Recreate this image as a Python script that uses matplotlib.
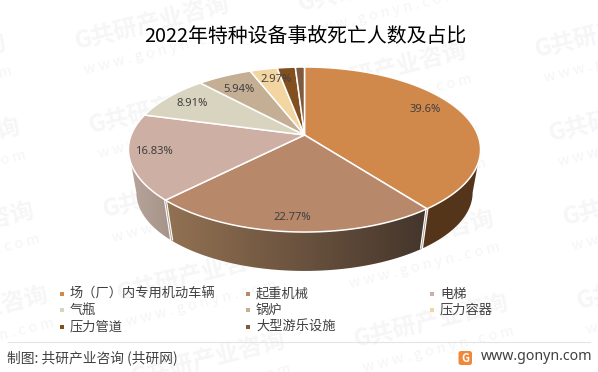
import numpy as np
import matplotlib
matplotlib.use('Agg')
import matplotlib.pyplot as plt
from matplotlib.patches import Polygon, Rectangle, FancyBboxPatch

plt.rcParams['font.family'] = ['Noto Sans CJK SC', 'DejaVu Sans']

titulo = '2022年特种设备事故死亡人数及占比'
categorias = ['场（厂）内专用机动车辆', '起重机械', '电梯', '气瓶', '锅炉', '压力容器', '压力管道', '大型游乐设施']
valores = [39.6, 22.77, 16.83, 8.91, 5.94, 2.97, 1.98, 0.99]
rotulos = ['39.6%', '22.77%', '16.83%', '8.91%', '5.94%', '2.97%']

cores = ['#D0894B', '#B8886B', '#CDAFA3', '#D8D4C0', '#C4AF94', '#F3D5A2', '#82501F', '#7F5A3C']
# parede lateral: cor na esquerda e na direita de cada fatia
cores_parede = {0: ('#56361B', '#54341A'), 1: ('#937253', '#44352B'), 2: ('#B8A59B', '#A69388')}
pos_rotulos = [(425, 110), (292, 217), (154, 151), (192, 104), (239, 89), (276, 80)]

# perspectiva do disco
cx, cy = 304.5, 135
a, A, k = 173.3, -56.2, 0.176


def topo(theta):
    u, v = np.sin(theta), np.cos(theta)
    d = 1 + k * v
    return cx + a * u / d, (A * v + cy) / d


def base(theta):
    x, y = topo(theta)
    return cx + (x - cx) * 0.955, 150 + (y - 150) * 0.95 + 43


fig = plt.figure(figsize=(5.98, 3.72), dpi=100)
ax = fig.add_axes([0, 0, 1, 1])
ax.set_xlim(0, 598)
ax.set_ylim(372, 0)
ax.axis('off')

# marca d'agua em grade inclinada
for i in range(-1, 3):
    for j in range(-1, 5):
        mx = 75 + i * 223 + j * 14
        my = 43 - i * 38 + j * 84
        if mx < -175 or mx > 598 or my < -10 or my > 400:
            continue
        ax.text(mx, my, 'G共研产业咨询', fontsize=17, fontweight='bold', color='#F6F6F6',
                rotation=14, ha='left', va='center', rotation_mode='anchor', zorder=0)
        ax.text(mx + 9, my + 27, 'w w w . g o n y n . c o m', fontsize=10.5, color='#F5F5F5',
                rotation=14, ha='left', va='center', rotation_mode='anchor', zorder=0)

limites = np.cumsum([0] + valores) / sum(valores) * 2 * np.pi

# angulos onde o disco fica mais largo (silhueta)
grade = np.linspace(0, 2 * np.pi, 2000)
lado_dir = grade[np.argmax(topo(grade)[0])]
lado_esq = grade[np.argmin(topo(grade)[0])]

# paredes com degrade
for i, (c_esq, c_dir) in cores_parede.items():
    t1 = max(limites[i], lado_dir) if i == 0 else limites[i]
    t2 = min(limites[i + 1], lado_esq) if i == 2 else limites[i + 1]
    tt = np.linspace(t1, t2, 160)
    xt, yt = topo(tt)
    xb, yb = base(tt)
    pts = list(zip(xt, yt)) + list(zip(xb[::-1], yb[::-1]))
    poli = Polygon(pts, closed=True, facecolor='none', edgecolor='none', zorder=2)
    ax.add_patch(poli)
    grad = np.linspace(0, 1, 256)[None, :, None]
    img = np.array(matplotlib.colors.to_rgb(c_esq)) * (1 - grad) + np.array(matplotlib.colors.to_rgb(c_dir)) * grad
    im = ax.imshow(img, extent=(min(xt.min(), xb.min()), max(xt.max(), xb.max()), max(yt.max(), yb.max()), min(yt.min(), yb.min())),
                   aspect='auto', zorder=2)
    im.set_clip_path(poli)
ax.set_xlim(0, 598)
ax.set_ylim(372, 0)

# emendas brancas entre as paredes
for t in limites[1:3]:
    p1, p2 = topo(t), base(t)
    ax.plot([p1[0], p2[0]], [p1[1], p2[1]], color='white', lw=2.2, zorder=3, solid_capstyle='butt')
    ax.plot([p1[0], p2[0]], [p1[1], p2[1]], color='#A89A90', lw=0.6, zorder=3, solid_capstyle='butt')

# face de cima
for i, cor in enumerate(cores):
    tt = np.linspace(limites[i], limites[i + 1], 120)
    xs, ys = topo(tt)
    pts = [(cx, cy)] + list(zip(xs, ys))
    ax.add_patch(Polygon(pts, closed=True, facecolor=cor, edgecolor='white', lw=1.1, zorder=4))

for txt, (tx, ty) in zip(rotulos, pos_rotulos):
    ax.text(tx, ty, txt, fontsize=8.1, color='#404040', family=['Noto Sans', 'DejaVu Sans'],
            ha='center', va='center', zorder=5)

ax.text(305, 36, titulo, fontsize=14.3, color='black', ha='center', va='center', zorder=5)

# legenda
col_x = [62, 248, 432]
lin_y = [294, 310, 327]
for i, (nome, cor) in enumerate(zip(categorias, cores)):
    lx, ly = col_x[i % 3], lin_y[i // 3]
    ax.add_patch(Rectangle((lx - 2, ly - 2), 4, 4, facecolor=cor, edgecolor='none', zorder=5))
    ax.text(lx + 8, ly, nome, fontsize=9.5, color='#404040', ha='left', va='center', zorder=5)

# rodape
ax.plot([8, 590], [341.5, 341.5], color='#E4E4E4', lw=0.8, zorder=5)
ax.text(7, 358, '制图: 共研产业咨询 (共研网)', fontsize=9.9, color='#404040', ha='left', va='center', zorder=5)
ax.add_patch(FancyBboxPatch((458.5, 351), 13.5, 14, boxstyle='round,pad=0,rounding_size=2.5',
                            facecolor='#F0883A', edgecolor='none', zorder=5))
ax.text(465.2, 358, 'G', fontsize=8, fontweight='bold', color='white', ha='center', va='center', zorder=6)
ax.text(481, 357, 'www.gonyn.com', fontsize=10.2, color='#404040', family=['Noto Sans', 'DejaVu Sans'],
        ha='left', va='center', zorder=5)

fig.savefig('out.png', dpi=100)
